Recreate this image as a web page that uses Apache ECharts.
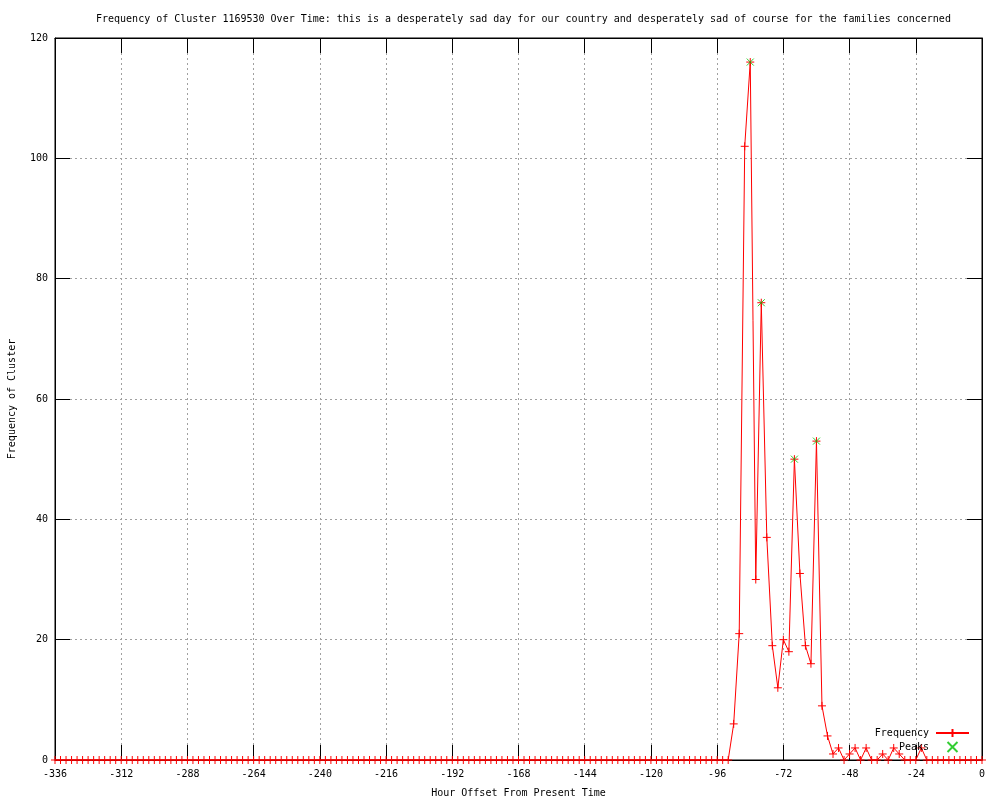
<!DOCTYPE html>
<html>
<head>
<meta charset="utf-8">
<script src="https://cdn.jsdelivr.net/npm/echarts@6/dist/echarts.min.js"></script>
<style>
html,body{margin:0;padding:0;background:#fff;}
#chart{width:1000px;height:800px;}
</style>
</head>
<body>
<div id="chart"></div>
<script>
// Hour offsets (sampling every 2 hours)
var hours = [
-336,-334,-332,-330,-328,-326,-324,-322,-320,-318,-316,-314,-312,-310,-308,-306,-304,-302,-300,-298,
-296,-294,-292,-290,-288,-286,-284,-282,-280,-278,-276,-274,-272,-270,-268,-266,-264,-262,-260,-258,
-256,-254,-252,-250,-248,-246,-244,-242,-240,-238,-236,-234,-232,-230,-228,-226,-224,-222,-220,-218,
-216,-214,-212,-210,-208,-206,-204,-202,-200,-198,-196,-194,-192,-190,-188,-186,-184,-182,-180,-178,
-176,-174,-172,-170,-168,-166,-164,-162,-160,-158,-156,-154,-152,-150,-148,-146,-144,-142,-140,-138,
-136,-134,-132,-130,-128,-126,-124,-122,-120,-118,-116,-114,-112,-110,-108,-106,-104,-102,-100,-98,
-96,-94,-92,-90,-88,-86,-84,-82,-80,-78,-76,-74,-72,-70,-68,-66,-64,-62,-60,-58,
-56,-54,-52,-50,-48,-46,-44,-42,-40,-38,-36,-34,-32,-30,-28,-26,-24,-22,-20,-18,
-16,-14,-12,-10,-8,-6,-4,-2,0
];
// Frequency of cluster at each hour offset
var freq = [
0,0,0,0,0,0,0,0,0,0,0,0,0,0,0,0,0,0,0,0,
0,0,0,0,0,0,0,0,0,0,0,0,0,0,0,0,0,0,0,0,
0,0,0,0,0,0,0,0,0,0,0,0,0,0,0,0,0,0,0,0,
0,0,0,0,0,0,0,0,0,0,0,0,0,0,0,0,0,0,0,0,
0,0,0,0,0,0,0,0,0,0,0,0,0,0,0,0,0,0,0,0,
0,0,0,0,0,0,0,0,0,0,0,0,0,0,0,0,0,0,0,0,
0,0,0,6,21,102,116,30,76,37,19,12,20,18,50,31,19,16,53,9,
4,1,2,0,1,2,0,2,0,0,1,0,2,1,0,0,0,2,0,0,
0,0,0,0,0,0,0,0,0
];
var peakHours = [-84, -80, -68, -60];
var peakValues = [116, 76, 50, 53];
var xTicks = {min: -336, max: 0, step: 24};
var yTicks = {min: 0, max: 120, step: 20};

var titleText = 'Frequency of Cluster 1169530 Over Time: this is a desperately sad day for our country and desperately sad of course for the families concerned';

var freqData = hours.map(function (h, i) { return [h, freq[i]]; });
var peakData = peakHours.map(function (h, i) { return [h, peakValues[i]]; });

var FONT = 'DejaVu Sans Mono';
var plusPath = 'path://M5,0L5,10M0,5L10,5';
var crossPath = 'path://M0,0L10,10M10,0L0,10';

var chart = echarts.init(document.getElementById('chart'), null, {renderer: 'canvas'});

var gridLine = {show: true, lineStyle: {color: '#a0a0a0', type: [2, 3], width: 1}};
var tickIn = {show: true, inside: true, length: 15, lineStyle: {color: '#000', width: 1}};

chart.setOption({
  animation: false,
  backgroundColor: '#fff',
  title: {
    text: titleText,
    left: 91,
    top: 9,
    textStyle: {fontFamily: FONT, fontSize: 10, fontWeight: 'normal', color: '#000'}
  },
  legend: {
    orient: 'vertical',
    right: 30,
    top: 728,
    padding: 0,
    align: 'right',
    itemWidth: 33,
    itemHeight: 10,
    itemGap: 3,
    textStyle: {fontFamily: FONT, fontSize: 10, color: '#000', padding: [0, 2, 0, 0]},
    data: ['Frequency', 'Peaks']
  },
  grid: {left: 55, right: 18, top: 38, bottom: 40, outerBoundsMode: 'none', containLabel: false,
         show: true, borderColor: '#000', borderWidth: 1, backgroundColor: 'transparent'},
  xAxis: [{
    type: 'value', min: xTicks.min, max: xTicks.max, interval: xTicks.step, position: 'bottom',
    name: 'Hour Offset From Present Time', nameLocation: 'middle', nameGap: 28,
    nameTextStyle: {fontFamily: FONT, fontSize: 10, color: '#000'},
    axisLine: {show: true, onZero: false, lineStyle: {color: '#000', width: 1}},
    axisTick: tickIn,
    axisLabel: {fontFamily: FONT, fontSize: 10, color: '#000', margin: 9, showMinLabel: true, showMaxLabel: true},
    splitLine: gridLine
  }, {
    type: 'value', min: xTicks.min, max: xTicks.max, interval: xTicks.step, position: 'top',
    axisLine: {show: true, onZero: false, lineStyle: {color: '#000', width: 1}},
    axisTick: tickIn, axisLabel: {show: false}, splitLine: {show: false}
  }],
  yAxis: [{
    type: 'value', min: yTicks.min, max: yTicks.max, interval: yTicks.step, position: 'left',
    name: 'Frequency of Cluster', nameLocation: 'middle', nameGap: 38, nameRotate: 90,
    nameTextStyle: {fontFamily: FONT, fontSize: 10, color: '#000'},
    axisLine: {show: true, onZero: false, lineStyle: {color: '#000', width: 1}},
    axisTick: tickIn,
    axisLabel: {fontFamily: FONT, fontSize: 10, color: '#000', margin: 7},
    splitLine: gridLine
  }, {
    type: 'value', min: yTicks.min, max: yTicks.max, interval: yTicks.step, position: 'right',
    axisLine: {show: true, onZero: false, lineStyle: {color: '#000', width: 1}},
    axisTick: tickIn, axisLabel: {show: false}, splitLine: {show: false}
  }],
  series: [{
    name: 'Frequency',
    type: 'line',
    xAxisIndex: 0, yAxisIndex: 0,
    data: freqData,
    symbol: plusPath,
    symbolSize: 8,
    showAllSymbol: true,
    clip: false,
    lineStyle: {color: '#ff0000', width: 1},
    itemStyle: {color: '#ff0000', borderColor: '#ff0000', borderWidth: 1},
    emphasis: {disabled: true},
    z: 3
  }, {
    name: 'Peaks',
    type: 'scatter',
    xAxisIndex: 0, yAxisIndex: 0,
    data: peakData,
    symbol: crossPath,
    symbolSize: 7,
    itemStyle: {color: '#00c000', borderColor: '#00c000', borderWidth: 1},
    emphasis: {disabled: true},
    z: 4
  }]
});
</script>
</body>
</html>
